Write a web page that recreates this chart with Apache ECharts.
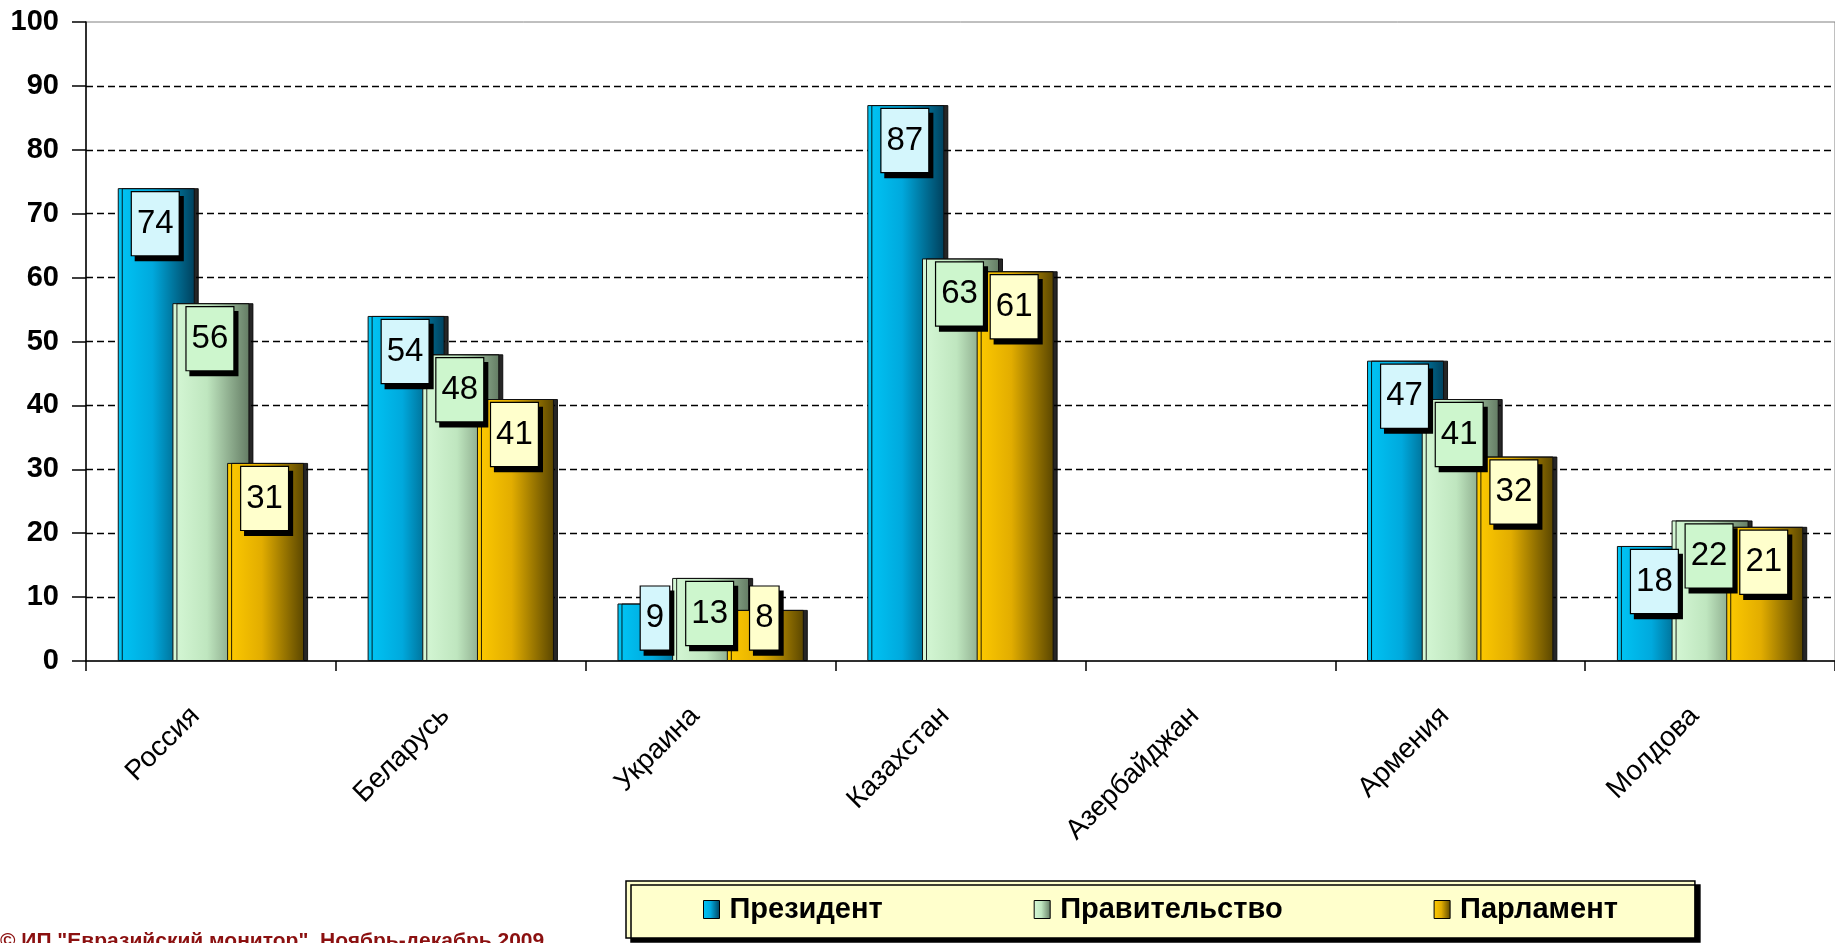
<!DOCTYPE html>
<html>
<head>
<meta charset="utf-8">
<script src="https://cdn.jsdelivr.net/npm/echarts@6/dist/echarts.min.js"></script>
<style>
html,body{margin:0;padding:0;background:#fff;}
#chart{width:1835px;height:943px;}
</style>
</head>
<body>
<div id="chart"></div>
<script>
// ---- data ----
const categories = ['Россия', 'Беларусь', 'Украина', 'Казахстан', 'Азербайджан', 'Армения', 'Молдова'];
const seriesNames = ['Президент', 'Правительство', 'Парламент'];
const president  = [74, 54, 9, 87, null, 47, 18];
const government = [56, 48, 13, 63, null, 41, 22];
const parliament = [31, 41, 8, 61, null, 32, 21];
const yMin = 0, yMax = 100, yInterval = 10;
const sourceNote = '© ИП "Евразийский монитор". Ноябрь-декабрь 2009';

// ---- styles ----
function hGrad(stops) {
  return new echarts.graphic.LinearGradient(0, 0, 1, 0, stops.map(s => ({offset: s[0], color: s[1]})));
}
const barColors = [
  hGrad([[0, '#00c6f6'], [0.45, '#00a9dd'], [1, '#00405c']]),
  hGrad([[0, '#d6f8d6'], [0.45, '#bfe6bf'], [1, '#647c64']]),
  hGrad([[0, '#ffcb00'], [0.45, '#e2ad00'], [1, '#5a4600']])
];
const labelBg = ['#d4f6fc', '#cdf6cd', '#ffffcc'];
const seriesData = [president, government, parliament];

function labelLayout(p) {
  const r = p.rect, lr = p.labelRect;
  const top = Math.min(r.y + 4, r.y + r.height - 9 - lr.height);
  return {x: r.x + r.width / 2 - 1, y: top, align: 'center', verticalAlign: 'top'};
}

const series = seriesNames.map((name, i) => ({
  name: name,
  type: 'bar',
  data: seriesData[i],
  barWidth: 77,
  barGap: '-29%',
  itemStyle: {
    color: barColors[i],
    borderColor: '#111',
    borderWidth: 1,
    shadowColor: 'rgba(0,0,0,0.85)',
    shadowOffsetX: 4,
    shadowOffsetY: 0,
    shadowBlur: 0
  },
  label: {
    show: true,
    position: 'insideTop',
    color: '#000',
    fontFamily: 'Liberation Sans, Arial, sans-serif',
    fontSize: 33,
    lineHeight: 33,
    backgroundColor: labelBg[i],
    borderColor: '#000',
    borderWidth: 1.2,
    padding: [15, 5, 15, 5],
    shadowColor: '#000',
    shadowOffsetX: 4,
    shadowOffsetY: 5,
    shadowBlur: 0
  },
  labelLayout: labelLayout
}));

const chart = echarts.init(document.getElementById('chart'), null, {renderer: 'canvas'});
chart.setOption({
  backgroundColor: '#fff',
  animation: false,
  grid: {
    left: 86, right: -6, top: 22, bottom: 282,
    show: true, borderColor: '#808080', borderWidth: 1, backgroundColor: 'transparent'
  },
  legend: {
    data: seriesNames,
    left: 626, top: 881,
    orient: 'horizontal',
    padding: [14, 77, 14, 77],
    itemGap: 151,
    itemWidth: 16, itemHeight: 18,
    icon: 'rect',
    backgroundColor: '#ffffcc',
    borderColor: '#000',
    borderWidth: 1.5,
    shadowColor: '#000',
    shadowOffsetX: 5,
    shadowOffsetY: 4,
    shadowBlur: 0,
    selectedMode: false,
    itemStyle: {borderColor: '#000', borderWidth: 1, shadowBlur: 0, shadowOffsetX: 0, shadowColor: 'transparent'},
    textStyle: {
      color: '#000', fontSize: 29, fontWeight: 'bold',
      fontFamily: 'Liberation Sans, Arial, sans-serif',
      padding: [0, 0, 0, 5]
    }
  },
  xAxis: {
    type: 'category',
    data: categories,
    boundaryGap: true,
    axisLine: {show: true, lineStyle: {color: '#000', width: 1.5}},
    axisTick: {show: true, alignWithLabel: false, length: 10, lineStyle: {color: '#000', width: 1.5}},
    axisLabel: {
      rotate: 45, margin: 35, interval: 0,
      color: '#000', fontSize: 28,
      padding: [0, 22, 0, 0],
      fontFamily: 'Liberation Sans, Arial, sans-serif'
    },
    splitLine: {show: false}
  },
  yAxis: {
    type: 'value',
    min: yMin, max: yMax, interval: yInterval,
    axisLine: {show: true, lineStyle: {color: '#000', width: 1.5}},
    axisTick: {show: true, length: 14, lineStyle: {color: '#000', width: 1.5}},
    axisLabel: {
      margin: 27, color: '#000', fontSize: 29, fontWeight: 'bold',
      fontFamily: 'Liberation Sans, Arial, sans-serif'
    },
    splitLine: {
      show: true, showMinLine: false, showMaxLine: false,
      lineStyle: {color: '#000', width: 1.3, type: [7, 4]}
    }
  },
  graphic: [{
    type: 'text',
    left: 0, top: 931,
    style: {
      text: sourceNote,
      fill: '#8b1010',
      font: 'bold 21px "Liberation Sans", Arial, sans-serif'
    }
  }],
  series: series
});
</script>
</body>
</html>
